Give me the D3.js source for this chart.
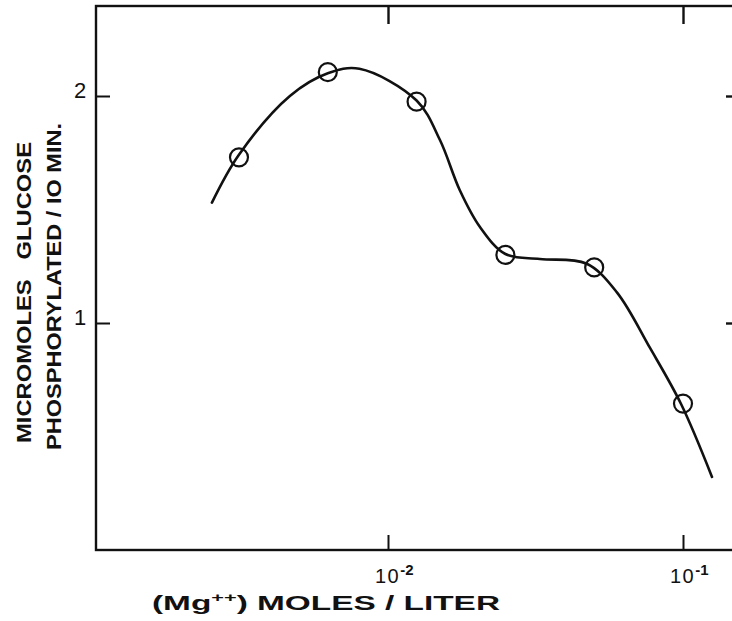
<!DOCTYPE html>
<html>
<head>
<meta charset="utf-8">
<script src="https://cdn.jsdelivr.net/npm/d3@7/dist/d3.min.js"></script>
<style>
  html, body { margin: 0; padding: 0; background: #fff; }
  svg { display: block; }
  text { font-family: "Liberation Sans", Arial, sans-serif; font-weight: bold; fill: #111; }
</style>
</head>
<body>
<svg id="chart" width="732" height="621"></svg>
<script>
// ---- data ----
const mgConc = [0.003125, 0.00625, 0.0125, 0.025, 0.05, 0.1];
const glucose = [1.73, 2.105, 1.975, 1.30, 1.245, 0.645];
// hand-drawn smooth curve through the points
const curveConc = [0.00253, 0.00312, 0.00465, 0.00625, 0.0080, 0.0125, 0.0150, 0.0175, 0.0205, 0.025, 0.0327, 0.047, 0.0597, 0.0773, 0.0985, 0.1254];
const curveVal  = [1.53, 1.74, 2.00, 2.10, 2.12, 1.98, 1.806, 1.586, 1.423, 1.304, 1.282, 1.262, 1.135, 0.89, 0.643, 0.322];
const xTicks = [0.01, 0.1];
const xTickExp = ["-2", "-1"];
const yTicks = [1, 2];
const yTickLabels = ["1", "2"];

const svg = d3.select("#chart");
const frame = { left: 96, right: 740, top: 6, bottom: 550 };

const x = d3.scaleLog().domain([0.01, 0.1]).range([388, 683]);
const y = d3.scaleLinear().domain([0, 2]).range([550, 96]);

// frame
svg.append("rect")
  .attr("x", frame.left).attr("y", frame.top)
  .attr("width", frame.right - frame.left).attr("height", frame.bottom - frame.top)
  .attr("fill", "none").attr("stroke", "#111").attr("stroke-width", 2.4);

// bottom axis ticks (inward)
const bottomAxis = d3.axisBottom(x).tickValues(xTicks).tickSizeInner(-15).tickSizeOuter(0).tickFormat("");
const gb = svg.append("g").attr("transform", `translate(0,${frame.bottom})`).call(bottomAxis);
gb.select(".domain").remove();
gb.selectAll(".tick line").attr("stroke", "#111").attr("stroke-width", 2);

// top axis ticks (inward)
const topAxis = d3.axisTop(x).tickValues(xTicks).tickSizeInner(-18).tickSizeOuter(0).tickFormat("");
const gt = svg.append("g").attr("transform", `translate(0,${frame.top})`).call(topAxis);
gt.select(".domain").remove();
gt.selectAll(".tick line").attr("stroke", "#111").attr("stroke-width", 2.4);

// left axis ticks (inward)
const leftAxis = d3.axisLeft(y).tickValues(yTicks).tickSizeInner(-14).tickSizeOuter(0).tickFormat("");
const gl = svg.append("g").attr("transform", `translate(${frame.left},0)`).call(leftAxis);
gl.select(".domain").remove();
gl.selectAll(".tick line").attr("stroke", "#111").attr("stroke-width", 2);

// right axis ticks (inward)
const rightAxis = d3.axisRight(y).tickValues(yTicks).tickSizeInner(-14).tickSizeOuter(0).tickFormat("");
const gr = svg.append("g").attr("transform", `translate(${frame.right},0)`).call(rightAxis);
gr.select(".domain").remove();
gr.selectAll(".tick line").attr("stroke", "#111").attr("stroke-width", 2.4);

// y tick labels
svg.append("g").selectAll("text").data(yTicks).join("text")
  .attr("x", 80).attr("y", d => y(d) + 2)
  .attr("text-anchor", "middle")
  .attr("font-size", 22)
  .style("font-weight", "normal")
  .text((d, i) => yTickLabels[i]);

// x tick labels
const xl = svg.append("g").selectAll("text").data(xTicks).join("text")
  .attr("x", d => x(d) - 13).attr("y", 583)
  .attr("text-anchor", "start")
  .attr("font-size", 20)
  .attr("letter-spacing", 1.5)
  .style("font-weight", "normal");
xl.append("tspan").text("10");
xl.append("tspan").attr("dy", -8).attr("font-size", 15).attr("letter-spacing", 0).style("font-weight", "bold").text((d, i) => xTickExp[i]);

// x title
const xt = svg.append("text").attr("x", 152).attr("y", 610).attr("font-size", 20)
  .attr("textLength", 348).attr("lengthAdjust", "spacingAndGlyphs");
xt.append("tspan").text("(Mg");
xt.append("tspan").attr("dy", -8).attr("font-size", 13).text("++");
xt.append("tspan").attr("dy", 8).text(") MOLES / LITER");

// y title (two lines, rotated)
svg.append("text")
  .attr("transform", "translate(31,443) rotate(-90)")
  .attr("font-size", 21)
  .attr("textLength", 301).attr("lengthAdjust", "spacingAndGlyphs")
  .attr("xml:space", "preserve")
  .text("MICROMOLES   GLUCOSE");
svg.append("text")
  .attr("transform", "translate(61,450) rotate(-90)")
  .attr("font-size", 21)
  .attr("textLength", 327).attr("lengthAdjust", "spacingAndGlyphs")
  .text("PHOSPHORYLATED / IO MIN.");

// curve
const line = d3.line()
  .x(d => x(d[0])).y(d => y(d[1]))
  .curve(d3.curveCatmullRom.alpha(0.5));
svg.append("path")
  .datum(curveConc.map((c, i) => [c, curveVal[i]]))
  .attr("d", line)
  .attr("fill", "none").attr("stroke", "#111").attr("stroke-width", 2.6)
  .attr("stroke-linecap", "round");

// points
svg.append("g").selectAll("circle").data(mgConc).join("circle")
  .attr("cx", d => x(d)).attr("cy", (d, i) => y(glucose[i]))
  .attr("r", 9)
  .attr("fill", "none").attr("stroke", "#111").attr("stroke-width", 2.2);
</script>
</body>
</html>
